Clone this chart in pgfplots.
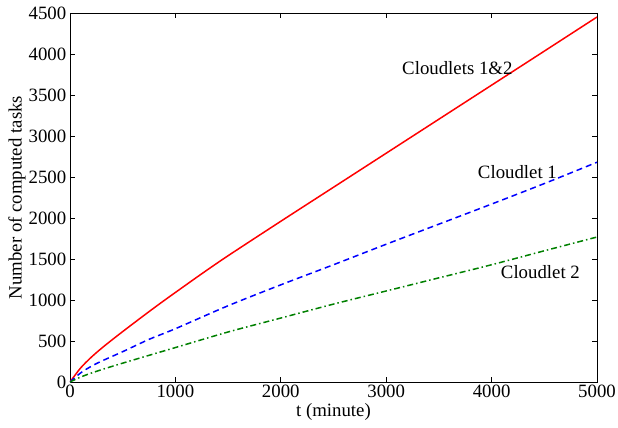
\documentclass[border=0pt]{standalone}
\usepackage{fontspec}
\setmainfont{Liberation Serif}
\usepackage{pgfplots}
\pgfplotsset{compat=1.18}
\definecolor{mgreen}{rgb}{0,0.5,0}
\begin{document}
\fontsize{18.8}{22}\selectfont
\begin{tikzpicture}
\begin{axis}[
  scale only axis, width=527pt, height=369pt,
  xmin=0, xmax=5000, ymin=0, ymax=4500,
  xtick={0,1000,2000,3000,4000,5000},
  ytick={0,500,1000,1500,2000,2500,3000,3500,4000,4500},
  scaled ticks=false,
  /pgf/number format/assume math mode=true,
  /pgf/number format/set thousands separator={},
  tick align=inside, tick pos=both, major tick length=5pt,
  axis line style={line width=0.9pt},
  every tick/.style={line width=0.8pt, black},
  ticklabel style={font=\fontsize{18.8}{22}\selectfont},
  xticklabel style={inner sep=2pt, yshift=-1pt},
  yticklabel style={inner sep=2.5pt, xshift=-1pt},
  label style={font=\fontsize{18.8}{22}\selectfont},
  xlabel={t (minute)}, ylabel={Number of computed tasks},
  xlabel style={yshift=3pt},
  ylabel style={yshift=-6pt},
]
\addplot[red, line width=1.5pt, smooth] coordinates {
(0,0) (100,170) (200,300) (300,412) (400,515) (500,615) (600,713) (700,810)
(800,906) (900,1000) (1000,1092) (1250,1320) (1500,1540) (2000,1960)
(2500,2375) (3000,2790) (3500,3205) (4000,3620) (4500,4035) (5000,4451)};
\addplot[blue, line width=1.5pt, smooth, dash pattern=on 6pt off 4pt] coordinates {
(0,0) (100,110) (200,190) (300,255) (500,370) (750,520) (1000,650)
(1500,930) (2000,1185) (2500,1430) (3000,1680) (3500,1925) (4000,2170)
(4500,2420) (5000,2680)};
\addplot[mgreen, line width=1.5pt, smooth, dash pattern=on 6pt off 3pt on 1.5pt off 3pt] coordinates {
(0,0) (100,60) (250,130) (500,230) (1000,420) (1500,610) (2000,780)
(2500,950) (3000,1110) (3500,1270) (4000,1430) (4500,1600) (5000,1768)};
\node at (axis cs:3675,3829) {Cloudlets 1\&2};
\node at (axis cs:4245,2561) {Cloudlet 1};
\node at (axis cs:4463,1341) {Cloudlet 2};
\end{axis}
\pgfresetboundingbox
\path (-70pt,-46pt) rectangle (548pt,382pt);
\end{tikzpicture}
\end{document}
